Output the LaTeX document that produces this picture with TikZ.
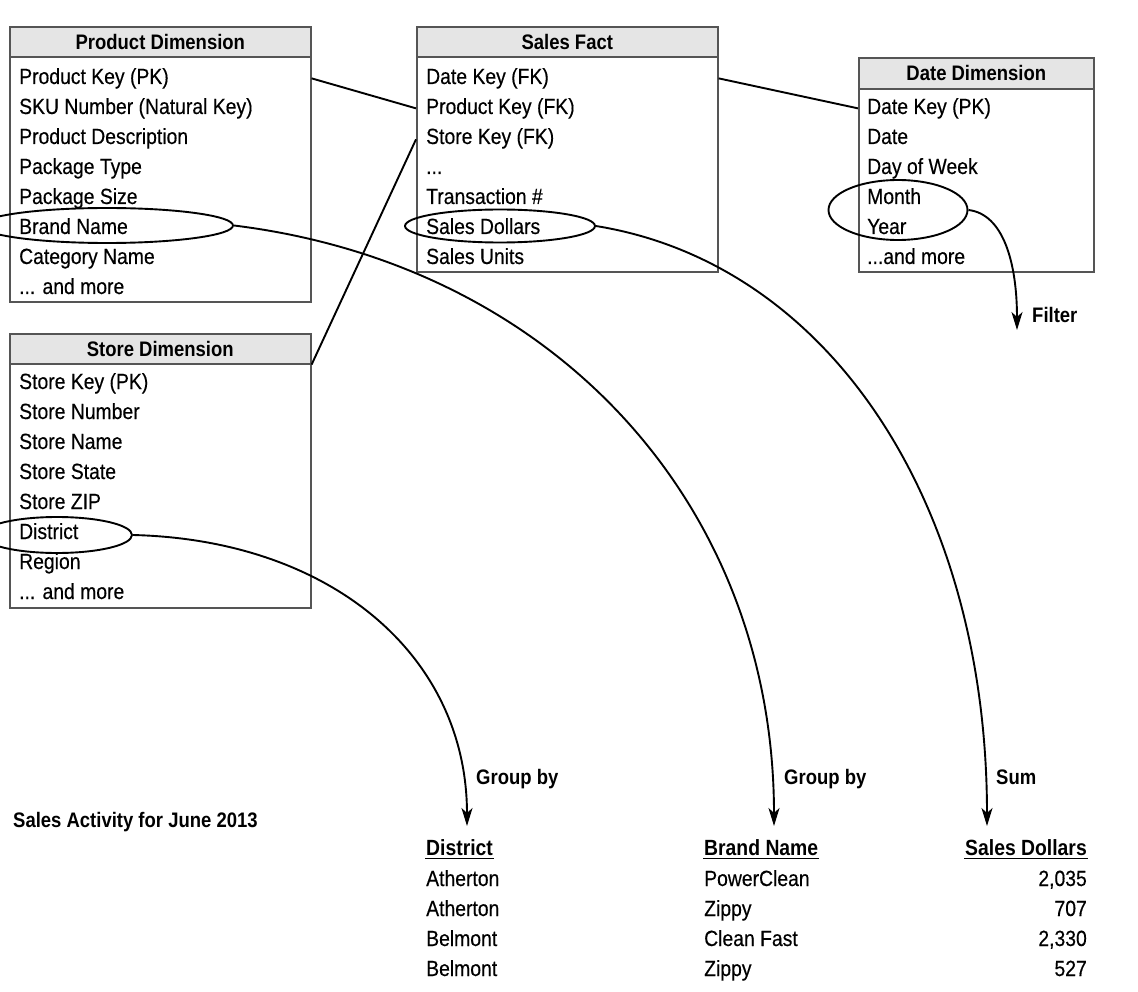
\documentclass[tikz,border=0pt]{standalone}
\usepackage{fontspec}
\setmainfont{Liberation Sans}[FakeStretch=0.88, UprightFeatures={FakeBold=0.35}]
\usetikzlibrary{shapes.geometric,arrows.meta}
\definecolor{boxgray}{HTML}{555555}
\definecolor{hdrgray}{HTML}{E5E5E5}
\newcommand\rowfont{\fontsize{22}{26}\selectfont}
\newcommand\hdrfont{\fontsize{21}{25}\selectfont\bfseries}
\newcommand\lblfont{\fontsize{21}{25}\selectfont\bfseries}
\newcommand\tdots{...}
\begin{document}
\begin{tikzpicture}[x=1pt,y=-1pt,
  hdr/.style={draw=boxgray, fill=hdrgray, line width=1.6pt, inner sep=0pt, anchor=north west, font=\hdrfont},
  body/.style={draw=boxgray, line width=1.6pt, inner sep=0pt, anchor=north west},
  row/.style={anchor=base west, inner sep=0pt, font=\rowfont},
  rowr/.style={anchor=base east, inner sep=0pt, font=\rowfont},
  thd/.style={anchor=base west, inner xsep=1pt, inner ysep=3pt, font=\rowfont\bfseries},
  lbl/.style={anchor=base west, inner sep=0pt, font=\lblfont},
  ell/.style={ellipse, draw, line width=1.9pt, inner sep=0pt},
  conn/.style={line width=1.9pt},
  arr/.style={line width=1.9pt, -{Stealth[length=18pt, width=11pt, inset=5pt]}},
  uline/.style={line width=1.8pt}
]
\useasboundingbox (0,0) rectangle (1138,992);
\clip (0,0) rectangle (1138,992);

% Product Dimension
\node[hdr, minimum width=301pt, minimum height=30pt] (pdh) at (9,26) {Product Dimension};
\node[body, minimum width=301pt, minimum height=245pt] (pdb) at (9,56) {};
\foreach \t [count=\i] in {{Product Key (PK)},{SKU Number (Natural Key)},{Product Description},{Package Type},{Package Size},{Brand Name},{Category Name},{\tdots{} and more}}
  \node[row] (pd\i) at (19,{84+30*(\i-1)}) {\t};

% Sales Fact
\node[hdr, minimum width=301pt, minimum height=30pt] (sfh) at (416,26) {Sales Fact};
\node[body, minimum width=301pt, minimum height=215pt] (sfb) at (416,56) {};
\foreach \t [count=\i] in {{Date Key (FK)},{Product Key (FK)},{Store Key (FK)},{\tdots},{Transaction \#},{Sales Dollars},{Sales Units}}
  \node[row] (sf\i) at (426,{84+30*(\i-1)}) {\t};

% Date Dimension
\node[hdr, minimum width=235pt, minimum height=31pt] (ddh) at (858,57) {Date Dimension};
\node[body, minimum width=235pt, minimum height=183pt] (ddb) at (858,88) {};
\foreach \t [count=\i] in {{Date Key (PK)},{Date},{Day of Week},{Month},{Year},{\tdots and more}}
  \node[row] (dd\i) at (867,{114+30*(\i-1)}) {\t};

% Store Dimension
\node[hdr, minimum width=301pt, minimum height=30pt] (sdh) at (9,333) {Store Dimension};
\node[body, minimum width=301pt, minimum height=244pt] (sdb) at (9,363) {};
\foreach \t [count=\i] in {{Store Key (PK)},{Store Number},{Store Name},{Store State},{Store ZIP},{District},{Region},{\tdots{} and more}}
  \node[row] (sd\i) at (19,{389+30*(\i-1)}) {\t};

% relationship lines
\draw[conn] ([yshift=3pt]pdb.east |- pd1.mid) -- ([yshift=3pt]sfb.west |- sf2.mid);
\draw[conn] (sdh.south east) -- ([yshift=2pt]sfb.west |- sf3.mid);
\draw[conn] ([yshift=3pt]sfb.east |- sf1.mid) -- ([yshift=3pt]ddb.west |- dd1.mid);

% ellipses
\node[ell, minimum width=252pt, minimum height=35pt] (eb) at (107,225.5) {};
\node[ell, minimum width=190pt, minimum height=33pt] (es) at (500,226) {};
\node[ell, minimum width=139pt, minimum height=60pt] (em) at (898,210) {};
\node[ell, minimum width=150pt, minimum height=36pt] (ed) at (57,535) {};

% arrow targets
\coordinate (tb) at (774,826);
\coordinate (ts) at (987,826);
\coordinate (td) at (467,826);
\coordinate (tf) at (1017,330);

\draw[arr] (eb.east) .. controls (555,265) and (774,505) .. (tb);
\draw[arr] (es.east) .. controls (831,264) and (987,505) .. (ts);
\draw[arr] (ed.east) .. controls (333,540) and (467,657) .. (td);
\draw[arr] (em.east) .. controls (1003,214) and (1017,262) .. (tf);

% labels
\node[lbl] (lf) at (1032,323) {Filter};
\node[lbl] (lg1) at (476,784) {Group by};
\node[lbl] (lg2) at (784,784) {Group by};
\node[lbl] (lsum) at (996,784) {Sum};
\node[lbl] (ltitle) at (13,827) {Sales Activity for June 2013};

% result table
\node[thd] (th1) at (425,855) {District};
\node[thd] (th2) at (703,855) {Brand Name};
\node[thd, anchor=base east] (th3) at (1088,855) {Sales Dollars};
\draw[uline] (th1.south west) -- (th1.south east);
\draw[uline] (th2.south west) -- (th2.south east);
\draw[uline] (th3.south west) -- (th3.south east);

\foreach \d/\b/\v [count=\i] in {Atherton/PowerClean/{2,035},Atherton/Zippy/707,Belmont/Clean Fast/{2,330},Belmont/Zippy/527}{
  \node[row] (dc\i) at (426,{886+30*(\i-1)}) {\d};
  \node[row] (bc\i) at (704,{886+30*(\i-1)}) {\b};
  \node[rowr] (vc\i) at (1087,{886+30*(\i-1)}) {\v};
}
\end{tikzpicture}
\end{document}
